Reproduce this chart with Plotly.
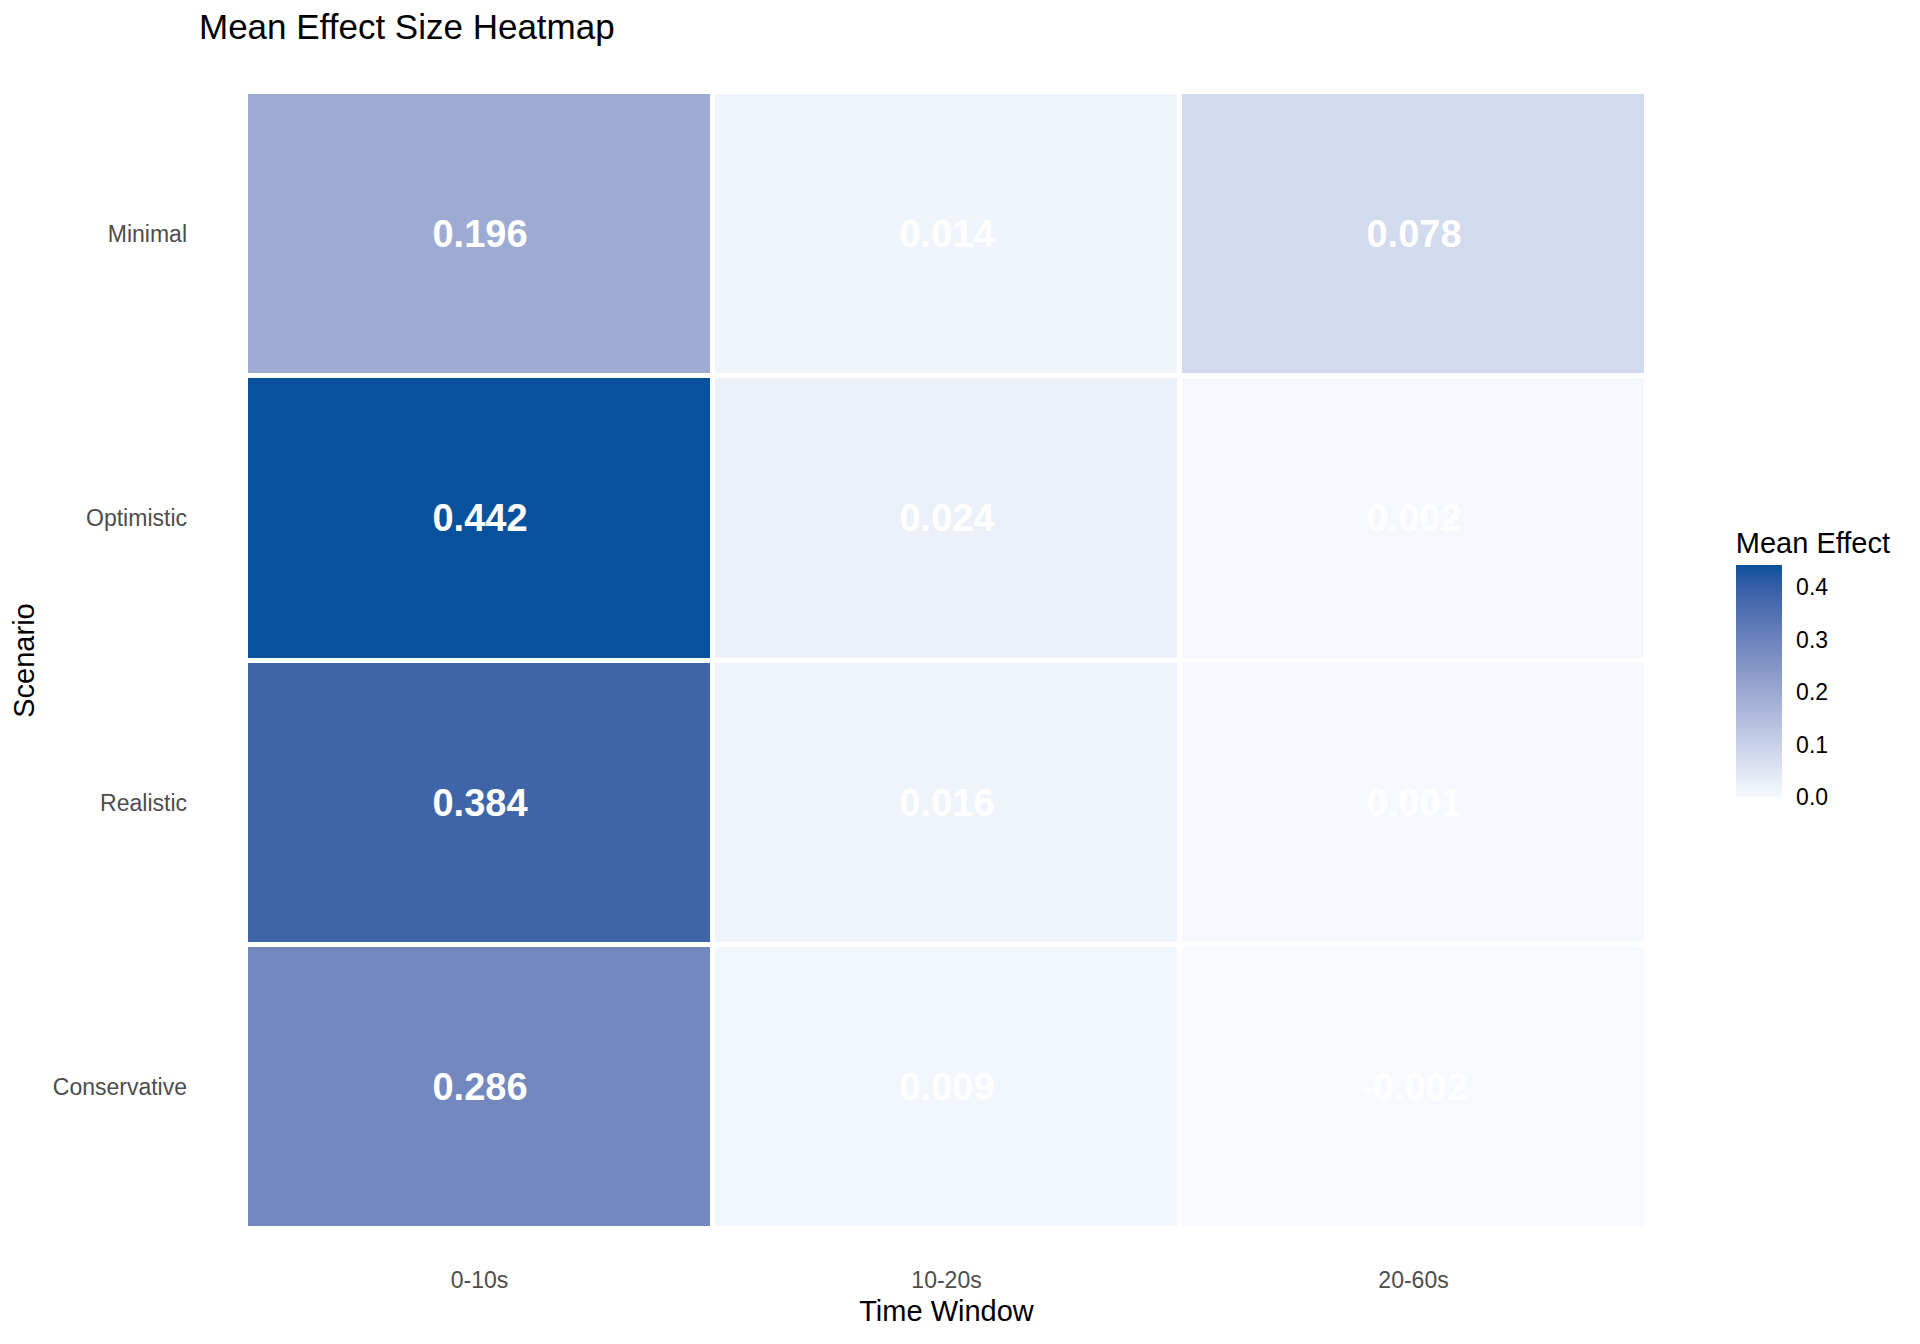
import plotly.graph_objects as go

# ---- data ----
time_windows = ["0-10s", "10-20s", "20-60s"]
scenarios = ["Conservative", "Realistic", "Optimistic", "Minimal"]  # bottom -> top
conservative = [0.286, 0.009, -0.002]
realistic = [0.384, 0.016, 0.001]
optimistic = [0.442, 0.024, 0.002]
minimal = [0.196, 0.014, 0.078]
colorbar_ticks = [0.0, 0.1, 0.2, 0.3, 0.4]

z = [conservative, realistic, optimistic, minimal]
text = [[f"{v:.3f}" for v in row] for row in z]
zmin = min(min(r) for r in z)
zmax = max(max(r) for r in z)

# ---- Lab-space gradient (like ggplot's scale_fill_gradient) ----
LOW, HIGH = "#F7FBFF", "#08519C"


def hex_to_rgb(h):
    h = h.lstrip("#")
    return [int(h[i:i + 2], 16) for i in (0, 2, 4)]


def to_lin(c):
    c = c / 255.0
    return c / 12.92 if c <= 0.04045 else ((c + 0.055) / 1.055) ** 2.4


def from_lin(c):
    c = 12.92 * c if c <= 0.0031308 else 1.055 * c ** (1 / 2.4) - 0.055
    return max(0, min(255, round(c * 255)))


WX, WY, WZ = 0.95047, 1.0, 1.08883


def rgb_to_lab(rgb):
    r, g, b = [to_lin(c) for c in rgb]
    X = 0.4124564 * r + 0.3575761 * g + 0.1804375 * b
    Y = 0.2126729 * r + 0.7151522 * g + 0.0721750 * b
    Z = 0.0193339 * r + 0.1191920 * g + 0.9503041 * b

    def f(t):
        return t ** (1 / 3) if t > 216 / 24389 else (24389 / 27 * t + 16) / 116

    fx, fy, fz = f(X / WX), f(Y / WY), f(Z / WZ)
    return [116 * fy - 16, 500 * (fx - fy), 200 * (fy - fz)]


def lab_to_rgb(lab):
    L, a, b = lab
    fy = (L + 16) / 116
    fx = fy + a / 500
    fz = fy - b / 200

    def finv(t):
        return t ** 3 if t ** 3 > 216 / 24389 else (116 * t - 16) / (24389 / 27)

    X, Y, Z = WX * finv(fx), WY * finv(fy), WZ * finv(fz)
    r = 3.2404542 * X - 1.5371385 * Y - 0.4985314 * Z
    g = -0.9692660 * X + 1.8760108 * Y + 0.0415560 * Z
    bb = 0.0556434 * X - 0.2040259 * Y + 1.0572252 * Z
    return [from_lin(max(0, r)), from_lin(max(0, g)), from_lin(max(0, bb))]


lab_lo, lab_hi = rgb_to_lab(hex_to_rgb(LOW)), rgb_to_lab(hex_to_rgb(HIGH))
N = 20
colorscale = []
for i in range(N + 1):
    t = i / N
    lab = [lo + (hi - lo) * t for lo, hi in zip(lab_lo, lab_hi)]
    r, g, b = lab_to_rgb(lab)
    colorscale.append([t, f"rgb({r},{g},{b})"])

FONT = "Liberation Sans"
W, H = 1920, 1344
ML, MT, PW, PH = 235, 84, 1404, 1137


def px_to_paper_y(py):
    return 1 - (py - MT) / PH


fig = go.Figure(
    go.Heatmap(
        z=z,
        x=time_windows,
        y=scenarios,
        text=text,
        texttemplate="%{text}",
        textfont=dict(family=FONT, size=38, color="white", weight="bold"),
        colorscale=colorscale,
        zmin=zmin,
        zmax=zmax,
        xgap=5,
        ygap=5,
        hoverinfo="skip",
        colorbar=dict(
            title=dict(text="Mean Effect", side="top",
                       font=dict(family=FONT, size=29, color="black")),
            x=(1728 - ML) / PW,
            xanchor="left",
            y=px_to_paper_y(790),
            yanchor="bottom",
            thickness=46,
            len=270,
            lenmode="pixels",
            outlinewidth=0,
            xpad=0,
            ypad=0,
            tickvals=colorbar_ticks,
            ticktext=[f"{v:.1f}" for v in colorbar_ticks],
            ticks="outside",
            ticklen=10,
            tickcolor="white",
            tickwidth=1,
            tickfont=dict(family=FONT, size=23, color="black"),
        ),
    )
)

fig.update_layout(
    width=W,
    height=H,
    paper_bgcolor="white",
    plot_bgcolor="white",
    margin=dict(l=ML, r=W - ML - PW, t=MT, b=H - MT - PH),
    title=dict(
        text="Mean Effect Size Heatmap",
        xref="container",
        x=191 / W,
        xanchor="left",
        yref="container",
        y=1 - 19 / H,
        yanchor="middle",
        font=dict(family=FONT, size=35, color="black"),
    ),
    font=dict(family=FONT),
)

fig.update_xaxes(
    categoryorder="array",
    categoryarray=time_windows,
    showgrid=False,
    zeroline=False,
    showline=False,
    ticks="",
    ticklabelstandoff=35,
    tickfont=dict(family=FONT, size=23, color="#4D4D4D"),
    title=dict(text="Time Window", standoff=8,
               font=dict(family=FONT, size=29, color="black")),
)
fig.update_yaxes(
    categoryorder="array",
    categoryarray=scenarios,
    showgrid=False,
    zeroline=False,
    showline=False,
    ticks="",
    ticklabelstandoff=58,
    tickfont=dict(family=FONT, size=23, color="#4D4D4D"),
    title=dict(text="Scenario", standoff=12,
               font=dict(family=FONT, size=29, color="black")),
)

fig.write_html("out.html")
